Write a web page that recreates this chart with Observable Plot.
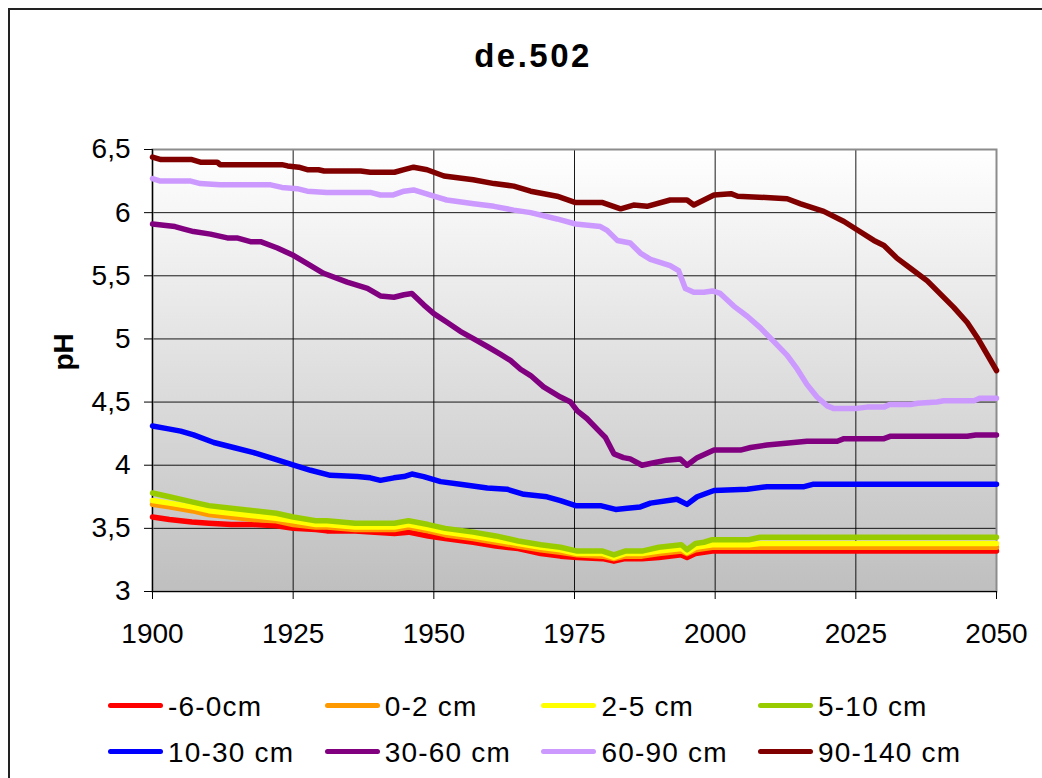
<!DOCTYPE html>
<html>
<head>
<meta charset="utf-8">
<script src="https://cdn.jsdelivr.net/npm/d3@7"></script>
<script src="https://cdn.jsdelivr.net/npm/@observablehq/plot@0.6"></script>
<style>
  html, body { margin: 0; padding: 0; background: #fff; }
  body { width: 1042px; height: 778px; overflow: hidden; position: relative; font-family: "Liberation Sans", Arial, sans-serif; }
  #frame { position: absolute; left: 8px; top: 8px; width: 1100px; height: 820px; border: 2px solid #222; box-sizing: border-box; }
  #title { position: absolute; left: 0; top: 39px; width: 1066px; text-align: center; font-size: 33px; line-height: 33px; font-weight: bold; color: #000; letter-spacing: 2.5px; }
  #chart { position: absolute; left: 0; top: 100px; }
  .lrow { position: absolute; left: 108px; height: 28px; display: flex; }
  .litem { width: 216.7px; display: flex; align-items: center; height: 28px; }
  .sw { width: 55px; height: 5px; border-radius: 3px; margin-right: 5px; position: relative; top: -2px; flex: none; }
  .lt { font-size: 28px; line-height: 28px; color: #000; white-space: nowrap; letter-spacing: 1.2px; }
</style>
</head>
<body>
<div id="frame"></div>
<div id="title">de.502</div>
<div id="chart"></div>
<div id="legend"></div>
<script>
// ---- data ----
const seriesNames = ["-6-0cm", "0-2 cm", "2-5 cm", "5-10 cm", "10-30 cm", "30-60 cm", "60-90 cm", "90-140 cm"];
const seriesColors = ["#FF0000", "#FF9900", "#FFFF00", "#99CC00", "#0000FF", "#800080", "#CC99FF", "#800000"];
const xTicks = [1900, 1925, 1950, 1975, 2000, 2025, 2050];
const yTicks = [3, 3.5, 4, 4.5, 5, 5.5, 6, 6.5];

// top-soil layers share their years
const yearsTop = [1900,1903,1907,1910,1914,1918,1922,1925,1929,1931,1936,1943,1945.5,1949,1952,1957,1961,1965,1969,1972.5,1975.5,1980,1982,1984,1987,1990,1994,1995,1996.5,1998,1999.5,2006,2008,2050];
const phM6_0 =  [3.59,3.57,3.55,3.54,3.53,3.53,3.52,3.50,3.49,3.48,3.48,3.46,3.47,3.44,3.42,3.39,3.36,3.34,3.30,3.28,3.27,3.26,3.24,3.26,3.26,3.27,3.29,3.27,3.30,3.31,3.32,3.32,3.32,3.32];
const ph0_2 =   [3.69,3.67,3.64,3.61,3.59,3.57,3.56,3.53,3.51,3.51,3.49,3.49,3.51,3.48,3.45,3.42,3.39,3.36,3.33,3.31,3.29,3.28,3.26,3.28,3.28,3.30,3.32,3.30,3.33,3.34,3.35,3.35,3.35,3.35];
const ph2_5 =   [3.72,3.70,3.67,3.64,3.62,3.60,3.58,3.56,3.53,3.53,3.51,3.51,3.53,3.50,3.47,3.44,3.41,3.38,3.35,3.33,3.30,3.30,3.27,3.30,3.30,3.32,3.34,3.31,3.35,3.36,3.37,3.37,3.38,3.38];
const ph5_10 =  [3.78,3.75,3.71,3.68,3.66,3.64,3.62,3.59,3.56,3.56,3.54,3.54,3.56,3.53,3.50,3.47,3.44,3.40,3.37,3.35,3.32,3.32,3.29,3.32,3.32,3.35,3.37,3.33,3.38,3.39,3.41,3.41,3.43,3.43];

const years10_30 = [1900,1902.6,1905,1907.3,1910.9,1914.4,1918,1921.6,1925.1,1928.1,1931.6,1936.4,1938.7,1940.5,1942.9,1944.7,1946.1,1948.2,1951.2,1954.7,1959.5,1963,1966,1970.1,1972.5,1975.2,1979.6,1982.3,1984.4,1986.7,1988.5,1993.2,1995,1996.8,1999.8,2005.7,2009.2,2015.8,2017.5,2050];
const ph10_30 =    [4.31,4.29,4.27,4.24,4.18,4.14,4.10,4.05,4.00,3.96,3.92,3.91,3.90,3.88,3.90,3.91,3.93,3.91,3.87,3.85,3.82,3.81,3.77,3.75,3.72,3.68,3.68,3.65,3.66,3.67,3.70,3.73,3.69,3.75,3.80,3.81,3.83,3.83,3.85,3.85];

const years30_60 = [1900,1904,1905.6,1907.3,1910.3,1913.3,1915,1917.4,1919.2,1922.2,1925.1,1928.1,1930.4,1934.6,1938.2,1940.5,1942.9,1944.7,1946.1,1948.2,1950,1952.4,1954.7,1957.1,1959.5,1961.8,1963.6,1965.4,1967.2,1969.5,1972.5,1974.3,1975.5,1977.2,1979.6,1980.5,1982,1983.7,1984.9,1987,1989.1,1991.4,1993.8,1995,1996.8,1999.8,2004.5,2006.3,2009.2,2011.6,2016.3,2021.7,2022.9,2030,2031.2,2044.8,2046.3,2050];
const ph30_60 =    [5.91,5.89,5.87,5.85,5.83,5.80,5.80,5.77,5.77,5.72,5.66,5.58,5.52,5.45,5.40,5.34,5.33,5.35,5.36,5.27,5.20,5.13,5.06,5.00,4.94,4.88,4.83,4.76,4.71,4.62,4.54,4.50,4.43,4.37,4.26,4.22,4.09,4.06,4.05,4.00,4.02,4.04,4.05,4.00,4.06,4.12,4.12,4.14,4.16,4.17,4.19,4.19,4.21,4.21,4.23,4.23,4.24,4.24];

const years60_90 = [1900,1901.4,1906.8,1908.5,1912,1921,1923,1925.7,1927.5,1931,1938.7,1940.5,1942.8,1944.7,1946.4,1950,1952.3,1957.1,1960.7,1964.2,1967.2,1971.9,1975.2,1979.6,1980.8,1982.6,1984.9,1986.7,1988.5,1992,1993.5,1994.7,1996.2,1998,1999.5,2000.9,2003.3,2005.7,2008,2010.4,2012.8,2014.6,2016.3,2018.1,2019.9,2021,2025.2,2027,2030,2031,2034.7,2036,2039.4,2040.6,2046,2047,2050];
const ph60_90 =    [6.27,6.25,6.25,6.23,6.22,6.22,6.20,6.19,6.17,6.16,6.16,6.14,6.14,6.17,6.18,6.13,6.10,6.07,6.05,6.02,6.00,5.95,5.91,5.89,5.86,5.78,5.76,5.68,5.63,5.58,5.54,5.40,5.37,5.37,5.38,5.36,5.26,5.18,5.09,4.98,4.87,4.76,4.64,4.54,4.47,4.45,4.45,4.46,4.46,4.48,4.48,4.49,4.50,4.51,4.51,4.53,4.53];

const years90_140 = [1900,1901.5,1907,1908.5,1911.5,1912,1923,1924,1926,1927.5,1929.5,1930.5,1937,1938.7,1943,1944.7,1946.4,1948.8,1951.8,1957,1960.7,1964.2,1967.2,1971.9,1975.2,1980,1983.2,1985.5,1987.9,1992,1995,1996.2,1998,1999.8,2002.8,2004,2009,2012.8,2015.2,2019.3,2022.9,2025,2028.2,2030,2032.3,2034.7,2037.7,2042.4,2044.8,2046.6,2050];
const ph90_140 =    [6.44,6.42,6.42,6.40,6.40,6.38,6.38,6.37,6.36,6.34,6.34,6.33,6.33,6.32,6.32,6.34,6.36,6.34,6.29,6.26,6.23,6.21,6.17,6.13,6.08,6.08,6.03,6.06,6.05,6.10,6.10,6.06,6.10,6.14,6.15,6.13,6.12,6.11,6.07,6.01,5.93,5.87,5.78,5.74,5.64,5.56,5.46,5.25,5.13,5.01,4.75];

// ---- long table for the library ----
const seriesDefs = [
  [seriesNames[0], yearsTop, phM6_0],
  [seriesNames[1], yearsTop, ph0_2],
  [seriesNames[2], yearsTop, ph2_5],
  [seriesNames[3], yearsTop, ph5_10],
  [seriesNames[4], years10_30, ph10_30],
  [seriesNames[5], years30_60, ph30_60],
  [seriesNames[6], years60_90, ph60_90],
  [seriesNames[7], years90_140, ph90_140]
];
const rows = [];
for (const [name, ys, vs] of seriesDefs) ys.forEach((yr, i) => rows.push({series: name, year: yr, ph: vs[i]}));

const chart = Plot.plot({
  width: 1042,
  height: 570,
  marginLeft: 152,
  marginRight: 46,
  marginTop: 49,
  marginBottom: 79,
  style: {fontFamily: '"Liberation Sans", Arial, sans-serif', fontSize: "28px", color: "#000", background: "transparent", overflow: "visible"},
  x: {domain: [1900, 2050]},
  y: {domain: [3, 6.5]},
  color: {domain: seriesNames, range: seriesColors},
  marks: [
    Plot.frame({fill: "url(#bgGrad)"}),
    Plot.gridX(xTicks, {stroke: "#000", strokeOpacity: 0.9, strokeWidth: 1}),
    Plot.gridY(yTicks, {stroke: "#000", strokeOpacity: 0.9, strokeWidth: 1}),
    Plot.frame({stroke: "#8c8c8c", strokeWidth: 2}),
    Plot.ruleX([1900], {stroke: "#000", strokeWidth: 1.2}),
    Plot.ruleY([3], {stroke: "#000", strokeWidth: 1.2}),
    Plot.axisX({ticks: xTicks, tickSize: 8, tickPadding: 24, tickFormat: d => String(d), label: null, fontSize: 28}),
    Plot.axisY({ticks: yTicks, tickSize: 8, tickPadding: 14, tickFormat: d => String(d).replace(".", ","), label: null, fontSize: 28}),
    Plot.text(["pH"], {frameAnchor: "left", dx: -88, rotate: -90, fontWeight: "bold", fontSize: 28, fill: "#000"}),
    Plot.line(rows, {x: "year", y: "ph", z: "series", stroke: "series", strokeWidth: 5.5, strokeLinejoin: "round", strokeLinecap: "round", curve: "linear"})
  ]
});

// background gradient of the plot area
const defs = d3.select(chart).insert("defs", ":first-child");
const grad = defs.append("linearGradient").attr("id", "bgGrad").attr("x1", 0).attr("y1", 0).attr("x2", 0).attr("y2", 1);
grad.append("stop").attr("offset", "0%").attr("stop-color", "#ffffff");
grad.append("stop").attr("offset", "100%").attr("stop-color", "#bfbfbf");

document.getElementById("chart").appendChild(chart);

// legend (two rows of four)
const legend = document.getElementById("legend");
const rowTops = [693, 739];
for (let r = 0; r < 2; r++) {
  const row = document.createElement("div");
  row.className = "lrow";
  row.style.top = rowTops[r] + "px";
  for (let c = 0; c < 4; c++) {
    const k = r * 4 + c;
    const item = document.createElement("div");
    item.className = "litem";
    const sw = document.createElement("span");
    sw.className = "sw";
    sw.style.background = seriesColors[k];
    const t = document.createElement("span");
    t.className = "lt";
    t.textContent = seriesNames[k];
    item.appendChild(sw);
    item.appendChild(t);
    row.appendChild(item);
  }
  legend.appendChild(row);
}
</script>
</body>
</html>
